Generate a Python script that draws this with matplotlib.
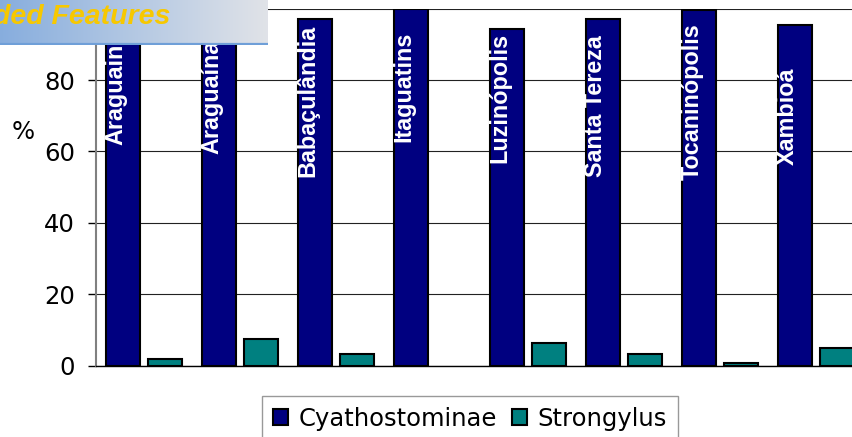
import numpy as np
import matplotlib
matplotlib.use("Agg")
import matplotlib.pyplot as plt
from matplotlib.patches import Rectangle

# ---- data ----
categories = ["Araguainã", "Araguaína", "Babaçulândia", "Itaguatins",
              "Luzinópolis", "Santa Tereza", "Tocaninópolis", "Xambioá"]
cyathostominae = [98.0, 94.0, 97.0, 100.0, 94.2, 97.0, 99.5, 95.3]
strongylus = [1.9, 7.4, 3.2, 0.0, 6.3, 3.2, 0.7, 5.0]
series_names = ["Cyathostominae", "Strongylus"]
yticks = [0, 20, 40, 60, 80, 100]
ytick_labels = ["0", "20", "40", "60", "80", ""]  # 100 is hidden under the banner

# layout constants (label bottoms, in axis units)
label_bottom = [61.8, 59.3, 52.9, 62.7, 56.8, 52.9, 52.0, 56.2]

W, H = 853, 437
fig = plt.figure(figsize=(W / 100, H / 100), dpi=100)
fig.patch.set_facecolor("white")

left_px, right_px, zero_px, top_px = 96, 863.8, 365.7, 8.7
ax = fig.add_axes([left_px / W, (H - zero_px) / H,
                   (right_px - left_px) / W, (zero_px - top_px) / H])

x = np.arange(len(categories))
bw = 0.354
off = 0.219
c_navy = "#000080"
c_teal = "#008080"
ax.bar(x - off, cyathostominae, bw, color=c_navy, edgecolor="black",
       linewidth=1.5, zorder=3)
ax.bar(x + off, strongylus, bw, color=c_teal, edgecolor="black",
       linewidth=[1.5 if v > 0 else 0 for v in strongylus], zorder=3)

for i, name in enumerate(categories):
    ax.text(i - off - 0.073, label_bottom[i], name, rotation=90,
            ha="center", va="bottom", color="white", fontweight="bold",
            fontsize=16.8, family=["Liberation Sans", "DejaVu Sans"],
            zorder=5)

ax.set_xlim(-0.5, len(categories) - 0.5)
ax.set_ylim(0, 100)
ax.set_yticks(yticks)
ax.set_yticklabels(ytick_labels, fontsize=17.5, family="DejaVu Sans")
ax.set_xticks([])
ax.tick_params(axis="y", length=5.8, width=1.0, color="black", pad=9.4)
ax.grid(axis="y", color="#222222", linewidth=0.8, zorder=0)
ax.set_axisbelow(True)
for s in ["top", "right"]:
    ax.spines[s].set_visible(False)
ax.spines["left"].set_color("#808080")
ax.spines["left"].set_linewidth(1.5)
ax.spines["bottom"].set_color("black")
ax.spines["bottom"].set_linewidth(1.0)

fig.text(23 / W, 1 - 132 / H, "%", ha="center", va="center",
         fontsize=17.5, family="DejaVu Sans")

handles = [Rectangle((0, 0), 1, 1, facecolor=c_navy, edgecolor="black", linewidth=1.5),
           Rectangle((0, 0), 1, 1, facecolor=c_teal, edgecolor="black", linewidth=1.5)]
leg = fig.legend(handles, series_names, loc="upper left",
                 bbox_to_anchor=(261.7 / W, 1 - 395.7 / H), ncol=2,
                 frameon=True, fancybox=False, borderaxespad=0,
                 prop={"family": "DejaVu Sans", "size": 17.5},
                 handlelength=0.62, handleheight=0.62, handletextpad=0.45,
                 columnspacing=0.6, borderpad=0.45)
leg.get_frame().set_edgecolor("#808080")
leg.get_frame().set_linewidth(1.0)

# banner overlay at top-left
bax = fig.add_axes([0, 1 - 45 / H, 268 / W, 45 / H], zorder=10)
grad = np.linspace(0, 1, 256)
c0 = np.array([0.53, 0.68, 0.87])
c1 = np.array([0.88, 0.89, 0.91])
img = (c0[None, :] * (1 - grad[:, None]) + c1[None, :] * grad[:, None])[None, :, :]
bax.imshow(img, aspect="auto", extent=[0, 268, 45, 0])
bax.plot([0, 268], [43.5, 43.5], color="#6f9fd8", linewidth=1.6)
bax.set_xlim(0, 268)
bax.set_ylim(45, 0)
bax.axis("off")
bax.text(170, 24.5, "ded Features", ha="right", va="baseline",
         color="#F7C800", fontsize=20.5, fontweight="bold", fontstyle="italic",
         family=["Liberation Sans", "DejaVu Sans"])

fig.savefig("out.png", dpi=100)
